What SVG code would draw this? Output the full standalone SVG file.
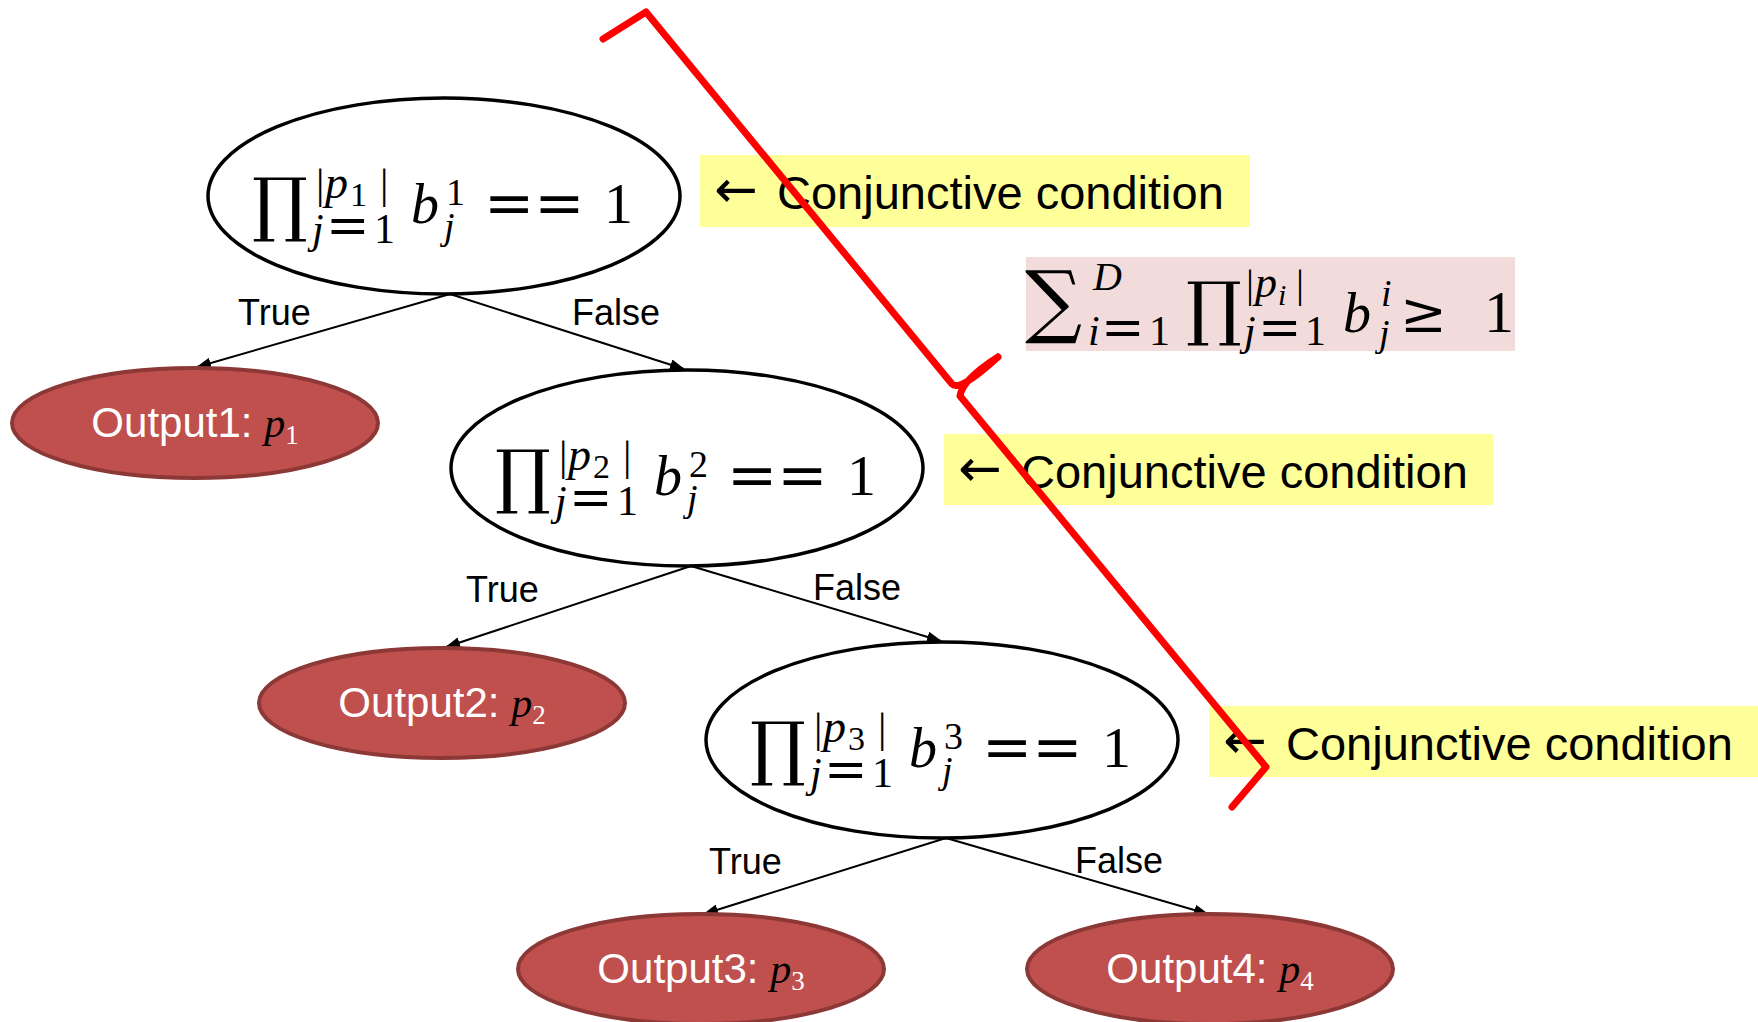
<svg xmlns="http://www.w3.org/2000/svg" width="1758" height="1022" viewBox="0 0 1758 1022">
<defs>
<style>
.cond{fill:#fff;stroke:#000;stroke-width:3.5}
.out{fill:#C0504D;stroke:#8C3836;stroke-width:4}
.edge{stroke:#000;stroke-width:2;fill:none}
.lbl{font-family:"Liberation Sans",Arial,sans-serif;font-size:36px;fill:#000}
.otxt{font-family:"Liberation Sans",Arial,sans-serif;font-size:42px;fill:#fff;text-anchor:middle}
.m{font-family:"Liberation Serif","Times New Roman",serif;fill:#000}
.d{font-family:"DejaVu Serif",serif;fill:#000}
.i{font-style:italic}
.ybox{fill:#FFFF99}
.ytxt{font-family:"Liberation Sans",Arial,sans-serif;font-size:47px;fill:#000}
.arrw{font-family:"DejaVu Sans",sans-serif;font-size:52px;fill:#000}
.brace{fill:none;stroke:#FF0000;stroke-width:7;stroke-linecap:round;stroke-linejoin:round}
</style>
<marker id="arr" markerWidth="15" markerHeight="11" refX="14" refY="5.5" orient="auto" markerUnits="userSpaceOnUse">
<path d="M0,0 L15,5.5 L0,11 z" fill="#000"/>
</marker>
</defs>
<rect width="1758" height="1022" fill="#fff"/>

<g id="connectors">
<line class="edge" x1="450" y1="294" x2="197" y2="367" marker-end="url(#arr)"/>
<line class="edge" x1="450" y1="294" x2="684" y2="369" marker-end="url(#arr)"/>
<line class="edge" x1="691" y1="566" x2="446" y2="647" marker-end="url(#arr)"/>
<line class="edge" x1="691" y1="566" x2="941" y2="641" marker-end="url(#arr)"/>
<line class="edge" x1="946" y1="838" x2="704" y2="914" marker-end="url(#arr)"/>
<line class="edge" x1="946" y1="838" x2="1208" y2="914" marker-end="url(#arr)"/>
<text class="lbl" x="238" y="325">True</text>
<text class="lbl" x="572" y="325">False</text>
<text class="lbl" x="466" y="602">True</text>
<text class="lbl" x="813" y="600">False</text>
<text class="lbl" x="709" y="874">True</text>
<text class="lbl" x="1075" y="873">False</text>
</g>

<g id="cond1" transform="translate(444,196)">
<ellipse class="cond" cx="0" cy="0" rx="236" ry="98"/>
<text class="d" x="-192" y="32" font-size="70">∏</text>
<text class="m" x="-128" y="2" font-size="42">|</text>
<text class="m i" x="-119" y="2" font-size="46">p</text>
<text class="m" x="-94" y="10" font-size="34">1</text>
<text class="m" x="-64" y="2" font-size="42">|</text>
<text class="m i" x="-132" y="47" font-size="42">j</text>
<text class="d" x="-118" y="47" font-size="52">=</text>
<text class="m" x="-70" y="47" font-size="42">1</text>
<text class="m i" x="-33" y="27" font-size="56">b</text>
<text class="m" x="2" y="9" font-size="38">1</text>
<text class="m i" x="0" y="43" font-size="38">j</text>
<text class="d" x="40" y="27" font-size="60">==</text>
<text class="m" x="160" y="27" font-size="58">1</text>
</g>

<g id="cond2" transform="translate(687,468)">
<ellipse class="cond" cx="0" cy="0" rx="236" ry="98"/>
<text class="d" x="-192" y="32" font-size="70">∏</text>
<text class="m" x="-128" y="2" font-size="42">|</text>
<text class="m i" x="-119" y="2" font-size="46">p</text>
<text class="m" x="-94" y="10" font-size="34">2</text>
<text class="m" x="-64" y="2" font-size="42">|</text>
<text class="m i" x="-132" y="47" font-size="42">j</text>
<text class="d" x="-118" y="47" font-size="52">=</text>
<text class="m" x="-70" y="47" font-size="42">1</text>
<text class="m i" x="-33" y="27" font-size="56">b</text>
<text class="m" x="2" y="9" font-size="38">2</text>
<text class="m i" x="0" y="43" font-size="38">j</text>
<text class="d" x="40" y="27" font-size="60">==</text>
<text class="m" x="160" y="27" font-size="58">1</text>
</g>

<g id="cond3" transform="translate(942,740)">
<ellipse class="cond" cx="0" cy="0" rx="236" ry="98"/>
<text class="d" x="-192" y="32" font-size="70">∏</text>
<text class="m" x="-128" y="2" font-size="42">|</text>
<text class="m i" x="-119" y="2" font-size="46">p</text>
<text class="m" x="-94" y="10" font-size="34">3</text>
<text class="m" x="-64" y="2" font-size="42">|</text>
<text class="m i" x="-132" y="47" font-size="42">j</text>
<text class="d" x="-118" y="47" font-size="52">=</text>
<text class="m" x="-70" y="47" font-size="42">1</text>
<text class="m i" x="-33" y="27" font-size="56">b</text>
<text class="m" x="2" y="9" font-size="38">3</text>
<text class="m i" x="0" y="43" font-size="38">j</text>
<text class="d" x="40" y="27" font-size="60">==</text>
<text class="m" x="160" y="27" font-size="58">1</text>
</g>

<g id="out1">
<ellipse class="out" cx="195" cy="423" rx="183" ry="55"/>
<text class="otxt" x="195" y="437">Output1: <tspan class="m i" fill="#fff">p</tspan><tspan font-family="Liberation Serif" font-size="27" dy="7">1</tspan></text>
</g>
<g id="out2">
<ellipse class="out" cx="442" cy="703" rx="183" ry="55"/>
<text class="otxt" x="442" y="717">Output2: <tspan class="m i" fill="#fff">p</tspan><tspan font-family="Liberation Serif" font-size="27" dy="7">2</tspan></text>
</g>
<g id="out3">
<ellipse class="out" cx="701" cy="969" rx="183" ry="55"/>
<text class="otxt" x="701" y="983">Output3: <tspan class="m i" fill="#fff">p</tspan><tspan font-family="Liberation Serif" font-size="27" dy="7">3</tspan></text>
</g>
<g id="out4">
<ellipse class="out" cx="1210" cy="969" rx="183" ry="55"/>
<text class="otxt" x="1210" y="983">Output4: <tspan class="m i" fill="#fff">p</tspan><tspan font-family="Liberation Serif" font-size="27" dy="7">4</tspan></text>
</g>

<g id="note1">
<rect class="ybox" x="700" y="155" width="550" height="72"/>
<text class="arrw" x="714" y="207">←</text>
<text class="ytxt" x="777" y="209">Conjunctive condition</text>
</g>
<g id="note2">
<rect class="ybox" x="944" y="434" width="549" height="71"/>
<text class="arrw" x="958" y="486">←</text>
<text class="ytxt" x="1021" y="488">Conjunctive condition</text>
</g>
<g id="note3">
<rect class="ybox" x="1209" y="706" width="549" height="71"/>
<text class="arrw" x="1223" y="758">←</text>
<text class="ytxt" x="1286" y="760">Conjunctive condition</text>
</g>

<g id="formula">
<rect x="1026" y="257" width="489" height="94" fill="#F2DCDB"/>
<text class="d" x="1025" y="328" font-size="80">∑</text>
<text class="m i" x="1093" y="290" font-size="40">D</text>
<text class="m i" x="1088" y="345" font-size="42">i</text>
<text class="d" x="1101" y="345" font-size="52">=</text>
<text class="m" x="1149" y="345" font-size="42">1</text>
<text class="d" x="1186" y="332" font-size="70">∏</text>
<text class="m" x="1246" y="297" font-size="40">|</text>
<text class="m i" x="1255" y="297" font-size="44">p</text>
<text class="m i" x="1278" y="305" font-size="30">i</text>
<text class="m" x="1296" y="297" font-size="40">|</text>
<text class="m i" x="1244" y="345" font-size="42">j</text>
<text class="d" x="1258" y="345" font-size="52">=</text>
<text class="m" x="1305" y="345" font-size="42">1</text>
<text class="m i" x="1343" y="332" font-size="56">b</text>
<text class="m i" x="1381" y="306" font-size="38">i</text>
<text class="m i" x="1379" y="346" font-size="38">j</text>
<text class="d" x="1400" y="332" font-size="56">≥</text>
<text class="m" x="1484" y="332" font-size="60">1</text>
</g>

<g id="brace">
<path class="brace" d="M603,39 L646,12 L952,384 Q960,392 998,357 M998,357 Q962,380 960,396 L1266,767 L1232,807"/>
</g>
</svg>
